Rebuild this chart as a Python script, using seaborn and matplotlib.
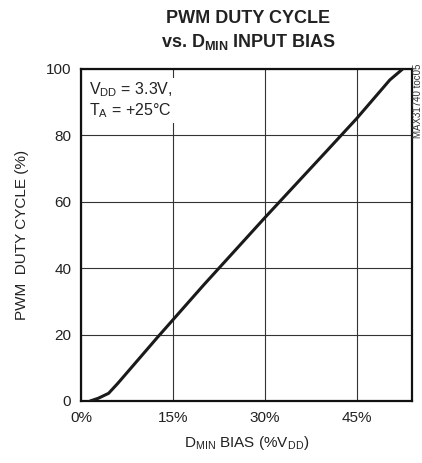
import matplotlib
matplotlib.use("Agg")
import matplotlib.pyplot as plt
import seaborn as sns
import pandas as pd

# Data
bias_pct = [1.5, 2.8, 4.5, 6.0, 12.4, 20.0, 30.0, 40.0, 45.0, 50.4, 52.5]
duty_pct = [0.0, 0.8, 2.3, 5.3, 19.0, 34.9, 55.2, 75.1, 85.1, 96.7, 100.0]
x_ticks = [0, 15, 30, 45]
x_tick_labels = ["0%", "15%", "30%", "45%"]
y_ticks = [0, 20, 40, 60, 80, 100]

sns.set_theme(style="white")
FAM = ["Liberation Sans", "DejaVu Sans"]
plt.rcParams["font.family"] = FAM
plt.rcParams["mathtext.fontset"] = "custom"
plt.rcParams["mathtext.rm"] = "Liberation Sans"
plt.rcParams["mathtext.bf"] = "Liberation Sans:bold"
plt.rcParams["mathtext.default"] = "rm"

df = pd.DataFrame({"bias": bias_pct, "duty": duty_pct})

fig = plt.figure(figsize=(4.22, 4.63), dpi=100)
ax = fig.add_axes([0.192, 0.134, 0.784, 0.717])

sns.lineplot(data=df, x="bias", y="duty", ax=ax, color="#1a1a1a", lw=2.2,
             sort=False, estimator=None, zorder=5)

ax.set_xlim(0, 54.0)
ax.set_ylim(0, 100)
ax.set_xticks(x_ticks)
ax.set_xticklabels(x_tick_labels)
ax.set_yticks(y_ticks)
ax.tick_params(axis="both", length=0, labelsize=11, colors="#222222", pad=7)
ax.grid(True, color="#333333", lw=0.8)
ax.set_axisbelow(True)
for s in ax.spines.values():
    s.set_visible(True)
    s.set_color("#111111")
    s.set_linewidth(1.6)

ax.set_xlabel(r"D$_{\mathrm{MIN}}$ BIAS (%V$_{\mathrm{DD}}$)", fontsize=11,
              color="#222222", labelpad=7)
ax.set_ylabel("PWM  DUTY CYCLE (%)", fontsize=11, color="#222222", labelpad=12)

fig.text(0.588, 0.961, "PWM DUTY CYCLE", ha="center", va="center",
         fontsize=13, fontweight="bold", color="#222222")
fig.text(0.588, 0.909, r"vs. D$_{\mathbf{MIN}}$ INPUT BIAS", ha="center",
         va="center", fontsize=13, fontweight="bold", color="#222222")

ax.text(0.025, 0.965, "V$_{\\mathrm{DD}}$ = 3.3V,\nT$_{\\mathrm{A}}$ = +25°C",
        transform=ax.transAxes, ha="left", va="top", fontsize=11.5,
        color="#222222", linespacing=1.15, zorder=6,
        bbox=dict(facecolor="white", edgecolor="none", pad=2))

fig.text(0.99, 0.782, "MAX31740 toc05", rotation=90, ha="center",
         va="center", fontsize=7, color="#333333")

fig.savefig("out.png", dpi=100)
